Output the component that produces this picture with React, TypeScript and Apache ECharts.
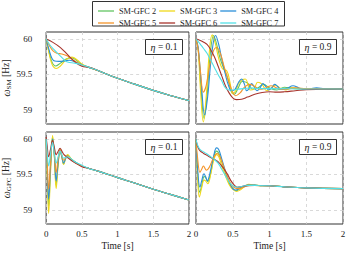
import React, { useEffect, useRef } from 'react';
import * as echarts from 'echarts';

const SERIES_NAMES = ['SM-GFC 2', 'SM-GFC 3', 'SM-GFC 4', 'SM-GFC 5', 'SM-GFC 6', 'SM-GFC 7'];
const SERIES_COLORS = ['#62c462', '#f0d81a', '#2b8fd8', '#f5952a', '#a8342c', '#52e0e6'];
const X_TICKS = [0, 0.5, 1, 1.5, 2];
const Y_TICKS = [59, 59.5, 60];
const ETA_LABELS = ['0.1', '0.9', '0.1', '0.9'];
const Y_NAMES = ['SM', 'GFC'];

// ---- Panel 1: omega_SM, eta = 0.1 ----
const SM01_TAIL = [[0.6, 59.6], [0.75, 59.545], [1.0, 59.445], [1.25, 59.36], [1.5, 59.275], [1.75, 59.2], [2.0, 59.13]];
const SM01_G2 = [[0, 60], [0.04, 59.82], [0.08, 59.68], [0.13, 59.62], [0.2, 59.66], [0.28, 59.72], [0.36, 59.735], [0.45, 59.68], [0.5, 59.64]];
const SM01_G3 = [[0, 60], [0.03, 59.85], [0.07, 59.68], [0.1, 59.61], [0.14, 59.585], [0.2, 59.62], [0.28, 59.71], [0.36, 59.745], [0.44, 59.7], [0.5, 59.65]];
const SM01_G4 = [[0, 60], [0.04, 59.85], [0.08, 59.73], [0.12, 59.69], [0.18, 59.685], [0.25, 59.69], [0.32, 59.7], [0.4, 59.68], [0.5, 59.635]];
const SM01_G5 = [[0, 60], [0.05, 59.9], [0.1, 59.83], [0.15, 59.8], [0.22, 59.79], [0.3, 59.76], [0.4, 59.69], [0.5, 59.63]];
const SM01_G6 = [[0, 60], [0.1, 59.95], [0.2, 59.88], [0.3, 59.78], [0.4, 59.68], [0.5, 59.615]];
const SM01_G7 = [[0, 60], [0.05, 59.92], [0.1, 59.86], [0.15, 59.81], [0.2, 59.76], [0.25, 59.71], [0.3, 59.675], [0.4, 59.66], [0.5, 59.635]];

// ---- Panel 2: omega_SM, eta = 0.9 ----
const SM09_G2 = [[0, 60], [0.03, 59.85], [0.065, 59.35], [0.11, 58.88], [0.15, 59.2], [0.19, 59.75], [0.24, 60.05], [0.28, 59.93], [0.33, 59.72], [0.38, 59.58], [0.43, 59.45], [0.48, 59.26], [0.52, 59.22], [0.57, 59.3], [0.63, 59.4], [0.7, 59.38], [0.77, 59.29], [0.84, 59.31], [0.92, 59.36], [1.0, 59.31], [1.1, 59.28], [1.2, 59.32], [1.35, 59.3], [1.6, 59.295], [2, 59.295]];
const SM09_G3 = [[0, 60], [0.03, 59.85], [0.06, 59.3], [0.1, 58.83], [0.14, 59.2], [0.18, 59.8], [0.22, 60.06], [0.26, 59.95], [0.31, 59.72], [0.36, 59.58], [0.42, 59.55], [0.46, 59.4], [0.5, 59.23], [0.54, 59.27], [0.59, 59.39], [0.67, 59.435], [0.74, 59.28], [0.79, 59.3], [0.84, 59.39], [0.9, 59.36], [0.96, 59.27], [1.02, 59.3], [1.08, 59.35], [1.14, 59.31], [1.22, 59.28], [1.3, 59.31], [1.45, 59.3], [1.6, 59.295], [2, 59.295]];
const SM09_G4 = [[0, 60], [0.03, 59.88], [0.07, 59.4], [0.118, 58.93], [0.16, 59.2], [0.21, 59.75], [0.267, 60.05], [0.31, 59.92], [0.35, 59.72], [0.4, 59.5], [0.44, 59.35], [0.48, 59.27], [0.53, 59.29], [0.58, 59.39], [0.62, 59.435], [0.66, 59.36], [0.69, 59.27], [0.72, 59.3], [0.756, 59.37], [0.79, 59.33], [0.83, 59.27], [0.87, 59.31], [0.91, 59.37], [0.95, 59.33], [0.99, 59.28], [1.03, 59.31], [1.07, 59.36], [1.11, 59.33], [1.15, 59.29], [1.23, 59.3], [1.32, 59.34], [1.4, 59.31], [1.48, 59.29], [1.56, 59.3], [1.64, 59.31], [1.75, 59.3], [2, 59.295]];
const SM09_G5 = [[0, 60], [0.03, 59.85], [0.06, 59.55], [0.1, 59.25], [0.14, 59.35], [0.19, 59.65], [0.24, 59.84], [0.28, 59.88], [0.33, 59.8], [0.38, 59.62], [0.43, 59.45], [0.48, 59.3], [0.54, 59.2], [0.6, 59.24], [0.66, 59.32], [0.73, 59.36], [0.8, 59.33], [0.87, 59.29], [0.95, 59.31], [1.02, 59.34], [1.1, 59.31], [1.2, 59.29], [1.35, 59.31], [1.5, 59.3], [2, 59.295]];
const SM09_G6 = [[0, 60], [0.05, 59.985], [0.1, 59.96], [0.15, 59.925], [0.2, 59.85], [0.25, 59.75], [0.3, 59.62], [0.35, 59.48], [0.4, 59.34], [0.45, 59.24], [0.5, 59.17], [0.55, 59.145], [0.62, 59.15], [0.7, 59.18], [0.8, 59.22], [0.9, 59.245], [1.0, 59.255], [1.1, 59.25], [1.2, 59.255], [1.35, 59.27], [1.5, 59.285], [1.7, 59.29], [2, 59.295]];
const SM09_G7 = [[0, 60], [0.05, 59.94], [0.1, 59.87], [0.15, 59.8], [0.2, 59.7], [0.25, 59.6], [0.3, 59.5], [0.35, 59.41], [0.4, 59.31], [0.45, 59.28], [0.5, 59.28], [0.55, 59.29], [0.65, 59.3], [0.75, 59.31], [0.85, 59.3], [1.0, 59.3], [1.5, 59.295], [2, 59.295]];

// ---- Panel 3: omega_GFC, eta = 0.1 ----
const GFC01_TAIL = [[0.6, 59.585], [0.75, 59.54], [1.0, 59.455], [1.25, 59.375], [1.5, 59.29], [1.75, 59.215], [2.0, 59.14]];
const GFC01_G2 = [[0, 60], [0.015, 59.55], [0.035, 59.05], [0.06, 59.55], [0.09, 60.03], [0.115, 59.76], [0.14, 59.35], [0.165, 59.62], [0.195, 59.85], [0.22, 59.75], [0.245, 59.65], [0.27, 59.72], [0.3, 59.77], [0.35, 59.72], [0.4, 59.68], [0.5, 59.62]];
const GFC01_G3 = [[0, 60], [0.015, 59.5], [0.035, 58.95], [0.06, 59.5], [0.09, 60.05], [0.115, 59.75], [0.14, 59.3], [0.165, 59.6], [0.195, 59.86], [0.22, 59.74], [0.245, 59.64], [0.27, 59.72], [0.3, 59.78], [0.35, 59.72], [0.4, 59.68], [0.5, 59.62]];
const GFC01_G4 = [[0, 60], [0.015, 59.6], [0.035, 59.15], [0.06, 59.6], [0.09, 60.0], [0.115, 59.78], [0.14, 59.41], [0.165, 59.64], [0.195, 59.84], [0.22, 59.75], [0.245, 59.66], [0.27, 59.72], [0.3, 59.76], [0.35, 59.71], [0.4, 59.68], [0.5, 59.62]];
const GFC01_G5 = [[0, 60], [0.015, 59.7], [0.035, 59.29], [0.06, 59.65], [0.09, 59.97], [0.115, 59.8], [0.14, 59.53], [0.165, 59.7], [0.195, 59.85], [0.22, 59.77], [0.245, 59.7], [0.27, 59.73], [0.3, 59.76], [0.35, 59.71], [0.4, 59.67], [0.5, 59.62]];
const GFC01_G6 = [[0, 60.03], [0.015, 59.9], [0.035, 59.75], [0.06, 59.85], [0.09, 59.98], [0.115, 59.88], [0.14, 59.78], [0.165, 59.82], [0.195, 59.87], [0.22, 59.83], [0.25, 59.78], [0.3, 59.74], [0.35, 59.7], [0.4, 59.67], [0.5, 59.61]];
const GFC01_G7 = [[0, 60], [0.015, 59.8], [0.035, 59.62], [0.06, 59.78], [0.09, 59.95], [0.115, 59.8], [0.14, 59.66], [0.165, 59.74], [0.195, 59.83], [0.22, 59.78], [0.245, 59.73], [0.27, 59.74], [0.3, 59.75], [0.35, 59.72], [0.4, 59.68], [0.5, 59.63]];

// ---- Panel 4: omega_GFC, eta = 0.9 ----
const GFC09_G2 = [[0, 60], [0.02, 59.55], [0.05, 59.25], [0.08, 59.35], [0.11, 59.47], [0.13, 59.46], [0.16, 59.4], [0.2, 59.52], [0.24, 59.74], [0.28, 59.83], [0.31, 59.8], [0.35, 59.68], [0.4, 59.52], [0.45, 59.38], [0.5, 59.3], [0.55, 59.27], [0.6, 59.3], [0.68, 59.34], [0.8, 59.35], [0.9, 59.34], [1.0, 59.34], [1.2, 59.325], [1.5, 59.31], [2, 59.3]];
const GFC09_G3 = [[0, 60], [0.02, 59.5], [0.045, 59.18], [0.075, 59.3], [0.11, 59.42], [0.13, 59.41], [0.16, 59.37], [0.2, 59.5], [0.24, 59.7], [0.28, 59.78], [0.31, 59.75], [0.35, 59.62], [0.4, 59.48], [0.45, 59.36], [0.5, 59.29], [0.55, 59.26], [0.6, 59.28], [0.66, 59.33], [0.72, 59.36], [0.8, 59.35], [0.9, 59.34], [1.0, 59.34], [1.2, 59.325], [1.5, 59.31], [2, 59.3]];
const GFC09_G4 = [[0, 60], [0.02, 59.6], [0.054, 59.32], [0.08, 59.42], [0.109, 59.51], [0.13, 59.47], [0.154, 59.41], [0.19, 59.52], [0.24, 59.76], [0.28, 59.875], [0.31, 59.85], [0.35, 59.72], [0.4, 59.55], [0.45, 59.4], [0.5, 59.3], [0.54, 59.28], [0.6, 59.31], [0.7, 59.35], [0.8, 59.35], [0.9, 59.34], [1.0, 59.34], [1.2, 59.325], [1.5, 59.31], [2, 59.3]];
const GFC09_G5 = [[0, 60], [0.02, 59.75], [0.054, 59.53], [0.08, 59.58], [0.1, 59.62], [0.12, 59.59], [0.14, 59.56], [0.18, 59.6], [0.24, 59.74], [0.29, 59.8], [0.33, 59.74], [0.38, 59.6], [0.43, 59.46], [0.48, 59.36], [0.53, 59.31], [0.58, 59.3], [0.65, 59.32], [0.72, 59.345], [0.8, 59.345], [0.9, 59.34], [1.0, 59.34], [1.2, 59.325], [1.5, 59.31], [2, 59.3]];
const GFC09_G6 = [[0, 60], [0.02, 59.9], [0.05, 59.84], [0.1, 59.8], [0.15, 59.77], [0.2, 59.74], [0.25, 59.71], [0.3, 59.68], [0.335, 59.64], [0.38, 59.58], [0.425, 59.51], [0.47, 59.42], [0.52, 59.35], [0.56, 59.32], [0.62, 59.33], [0.7, 59.34], [0.8, 59.345], [0.9, 59.345], [1.0, 59.34], [1.2, 59.325], [1.5, 59.31], [2, 59.3]];
const GFC09_G7 = [[0, 60], [0.02, 59.92], [0.05, 59.86], [0.1, 59.82], [0.15, 59.79], [0.2, 59.75], [0.25, 59.71], [0.3, 59.66], [0.335, 59.6], [0.38, 59.52], [0.425, 59.44], [0.47, 59.37], [0.52, 59.33], [0.56, 59.32], [0.62, 59.33], [0.7, 59.345], [0.8, 59.345], [1.0, 59.34], [1.2, 59.325], [1.5, 59.31], [2, 59.3]];

const PANEL_DATA = [
  [SM01_G2, SM01_G3, SM01_G4, SM01_G5, SM01_G6, SM01_G7].map((d) => [...d, ...SM01_TAIL]),
  [SM09_G2, SM09_G3, SM09_G4, SM09_G5, SM09_G6, SM09_G7],
  [GFC01_G2, GFC01_G3, GFC01_G4, GFC01_G5, GFC01_G6, GFC01_G7].map((d) => [...d, ...GFC01_TAIL]),
  [GFC09_G2, GFC09_G3, GFC09_G4, GFC09_G5, GFC09_G6, GFC09_G7],
];

const FONT = "'Liberation Serif', 'Times New Roman', serif";
const GRIDS = [
  { left: 42, top: 32, width: 147, height: 92 },
  { left: 196, top: 32, width: 147, height: 92 },
  { left: 42, top: 132, width: 147, height: 92 },
  { left: 196, top: 132, width: 147, height: 92 },
];

export default function App() {
  const ref = useRef<HTMLDivElement>(null);
  useEffect(() => {
    if (!ref.current) return;
    const chart = echarts.init(ref.current, null, { renderer: 'svg' });

    const xAxes = GRIDS.map((_, i) => ({
      type: 'value',
      gridIndex: i,
      min: 0,
      max: 2,
      interval: 0.5,
      axisLine: { show: false },
      axisTick: { show: false },
      axisLabel: {
        show: i >= 2,
        fontFamily: FONT,
        fontSize: 9,
        color: '#222',
        margin: 5,
        formatter: (v: number) => (X_TICKS.includes(v) ? String(v) : ''),
      },
      splitLine: { show: true, lineStyle: { color: '#cfcfcf', type: [3, 3], width: 0.8 } },
      name: i >= 2 ? 'Time [s]' : '',
      nameLocation: 'middle',
      nameGap: 17,
      nameTextStyle: { fontFamily: FONT, fontSize: 9.5, fontWeight: 'normal', color: '#222' },
    }));

    const yAxes = GRIDS.map((_, i) => ({
      type: 'value',
      gridIndex: i,
      min: 58.8,
      max: 60.1,
      axisLine: { show: false },
      axisTick: { show: false, customValues: Y_TICKS },
      axisLabel: {
        show: i % 2 === 0,
        customValues: Y_TICKS,
        fontFamily: FONT,
        fontSize: 9,
        color: '#222',
        margin: 14,
        formatter: (v: number) => String(v),
      },
      splitLine: { show: true, lineStyle: { color: '#cfcfcf', type: [3, 3], width: 0.8 } },
      name: i % 2 === 0 ? `{w|ω}{s|${Y_NAMES[i / 2]}}{n| [Hz]}` : '',
      nameLocation: 'middle',
      nameGap: 25,
      nameTextStyle: {
        fontFamily: FONT,
        fontSize: 9.5,
        fontWeight: 'normal',
        color: '#222',
        rich: {
          w: { fontFamily: FONT, fontSize: 10, fontStyle: 'italic', color: '#222' },
          s: { fontFamily: FONT, fontSize: 7, color: '#222', padding: [6, 0, 0, 0] },
          n: { fontFamily: FONT, fontSize: 9.5, color: '#222' },
        },
      },
    }));

    const series: any[] = [];
    PANEL_DATA.forEach((panel, p) => {
      panel.forEach((data, k) => {
        series.push({
          type: 'line',
          name: SERIES_NAMES[k],
          xAxisIndex: p,
          yAxisIndex: p,
          data,
          symbol: 'none',
          showSymbol: false,
          smooth: 0.4,
          clip: true,
          lineStyle: { color: SERIES_COLORS[k], width: 1.1 },
          itemStyle: { color: SERIES_COLORS[k] },
        });
      });
    });

    const graphics: any[] = [
      {
        type: 'rect',
        shape: { x: 92.5, y: 1.5, width: 192, height: 24.5 },
        style: { fill: '#fff', stroke: '#333', lineWidth: 1 },
        z: 0,
      },
    ];
    GRIDS.forEach((g, i) => {
      const bx = g.left + g.width - 7 - 37;
      const by = g.top + 7;
      graphics.push({
        type: 'rect',
        shape: { x: bx + 0.5, y: by + 0.5, width: 37, height: 15 },
        style: { fill: '#fff', stroke: '#333', lineWidth: 1 },
        z: 100,
      });
      graphics.push({
        type: 'text',
        x: bx + 19,
        y: by + 8,
        style: {
          text: `{i|η} = ${ETA_LABELS[i]}`,
          font: `9.5px ${FONT}`,
          fill: '#222',
          align: 'center',
          verticalAlign: 'middle',
          rich: { i: { fontFamily: FONT, fontStyle: 'italic', fontSize: 10, fill: '#222' } },
        },
        z: 101,
      });
    });

    const legendCommon = {
      left: 93,
      icon: 'rect',
      itemWidth: 16,
      itemHeight: 1.3,
      itemGap: 3,
      selectedMode: false,
      textStyle: { fontFamily: FONT, fontSize: 8.3, color: '#222' },
      z: 10,
    };

    chart.setOption({
      animation: false,
      backgroundColor: '#fff',
      textStyle: { fontFamily: FONT },
      grid: GRIDS.map((g) => ({ ...g, show: true, borderColor: '#333', borderWidth: 1, backgroundColor: 'transparent' })),
      xAxis: xAxes,
      yAxis: yAxes,
      legend: [
        { ...legendCommon, top: 2, data: SERIES_NAMES.slice(0, 3) },
        { ...legendCommon, top: 14, data: SERIES_NAMES.slice(3, 6) },
      ],
      graphic: graphics,
      series,
    });
    return () => chart.dispose();
  }, []);
  return <div ref={ref} style={{ position: 'absolute', left: 0, top: 0, width: 349, height: 256 }} />;
}
